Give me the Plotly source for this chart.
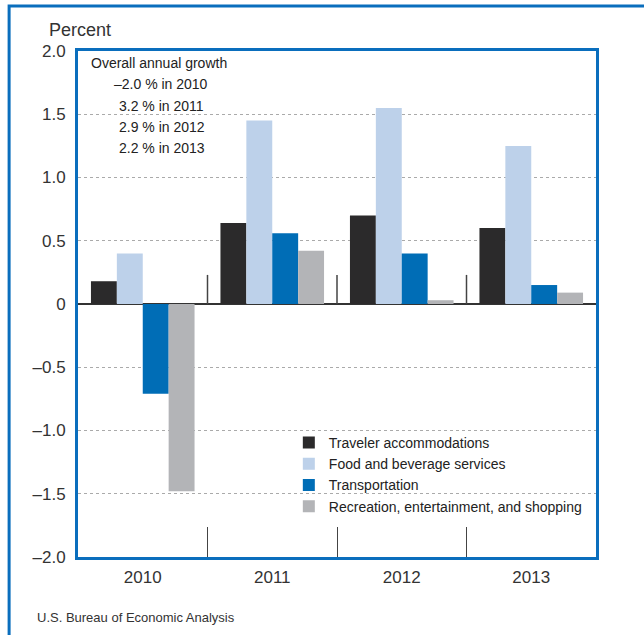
import plotly.graph_objects as go

years = ["2010", "2011", "2012", "2013"]
series_names = [
    "Traveler accommodations",
    "Food and beverage services",
    "Transportation",
    "Recreation, entertainment, and shopping",
]
traveler = [0.18, 0.64, 0.70, 0.60]
food = [0.40, 1.45, 1.55, 1.25]
transport = [-0.71, 0.56, 0.40, 0.15]
recreation = [-1.48, 0.42, 0.03, 0.09]
colors = ["#2b2a2b", "#bdd1ea", "#006db6", "#b3b4b7"]

y_ticks = [2.0, 1.5, 1.0, 0.5, 0.0, -0.5, -1.0, -1.5, -2.0]
y_ticktext = ["2.0", "1.5", "1.0", "0.5", "0", "\u20130.5", "\u20131.0", "\u20131.5", "\u20132.0"]

growth_lines = ["Overall annual growth", "\u20132.0 % in 2010", "3.2 % in 2011",
                "2.9 % in 2012", "2.2 % in 2013"]
growth_indent = [0, 23, 28, 28, 28]

BLUE = "#0a6ebd"
FONT = "Liberation Sans, Arial, sans-serif"

fig = go.Figure()
for name, vals, c in zip(series_names, [traveler, food, transport, recreation], colors):
    fig.add_trace(go.Bar(x=years, y=vals, name=name, marker=dict(color=c, line=dict(width=0))))

# separators at zero line between years
for i in range(len(years) - 1):
    fig.add_shape(type="line", xref="x", yref="y", x0=i + 0.5, x1=i + 0.5, y0=0, y1=0.23,
                  line=dict(color="#444", width=1.5), layer="above")

# outer border (top & left)
fig.add_shape(type="rect", xref="paper", yref="paper", x0=-0.133, x1=1.3, y0=-0.4, y1=1.089,
              line=dict(color=BLUE, width=3), fillcolor="rgba(0,0,0,0)", layer="above")

fig.update_layout(
    width=644, height=635,
    margin=dict(l=78, r=48, t=51, b=78),
    paper_bgcolor="white", plot_bgcolor="white",
    barmode="group", bargap=0.2, bargroupgap=0,
    font=dict(family=FONT, color="#333333", size=17),
    showlegend=True,
    legend=dict(x=0.407, y=0.257, xanchor="left", yanchor="top",
                font=dict(family=FONT, size=14, color="#222"),
                bgcolor="rgba(0,0,0,0)", tracegroupgap=0, itemwidth=30),
    xaxis=dict(showline=True, mirror=True, linecolor=BLUE, linewidth=3,
               tickson="boundaries", ticks="inside", ticklen=30, tickcolor="#444", tickwidth=1,
               showgrid=False, tickfont=dict(size=17, color="#333"), ticklabelstandoff=3),
    yaxis=dict(range=[-2, 2], showline=True, mirror=True, linecolor=BLUE, linewidth=3,
               tickvals=y_ticks, ticktext=y_ticktext, ticks="",
               showgrid=True, gridcolor="#aaa", griddash="dot", gridwidth=1,
               zeroline=True, zerolinecolor="#333", zerolinewidth=2,
               tickfont=dict(size=17, color="#333"), ticklabelstandoff=6),
)

fig.add_annotation(xref="paper", yref="paper", x=-0.06, y=1.042, xanchor="left", yanchor="middle",
                   text="Percent", showarrow=False, font=dict(size=18, color="#333"))

for i, (line, ind) in enumerate(zip(growth_lines, growth_indent)):
    fig.add_annotation(xref="paper", yref="paper", x=0.021, y=0.976 - i * 0.042,
                       xanchor="left", yanchor="middle", xshift=ind,
                       text=line, showarrow=False, align="left",
                       font=dict(family=FONT, size=14, color="#222"))

fig.add_annotation(xref="paper", yref="paper", x=-0.083, y=-0.12, xanchor="left", yanchor="middle",
                   text="U.S. Bureau of Economic Analysis", showarrow=False,
                   font=dict(family=FONT, size=13, color="#333"))

fig.write_html("out.html", config={"displayModeBar": False},
               post_script="document.body.style.margin='0';")
